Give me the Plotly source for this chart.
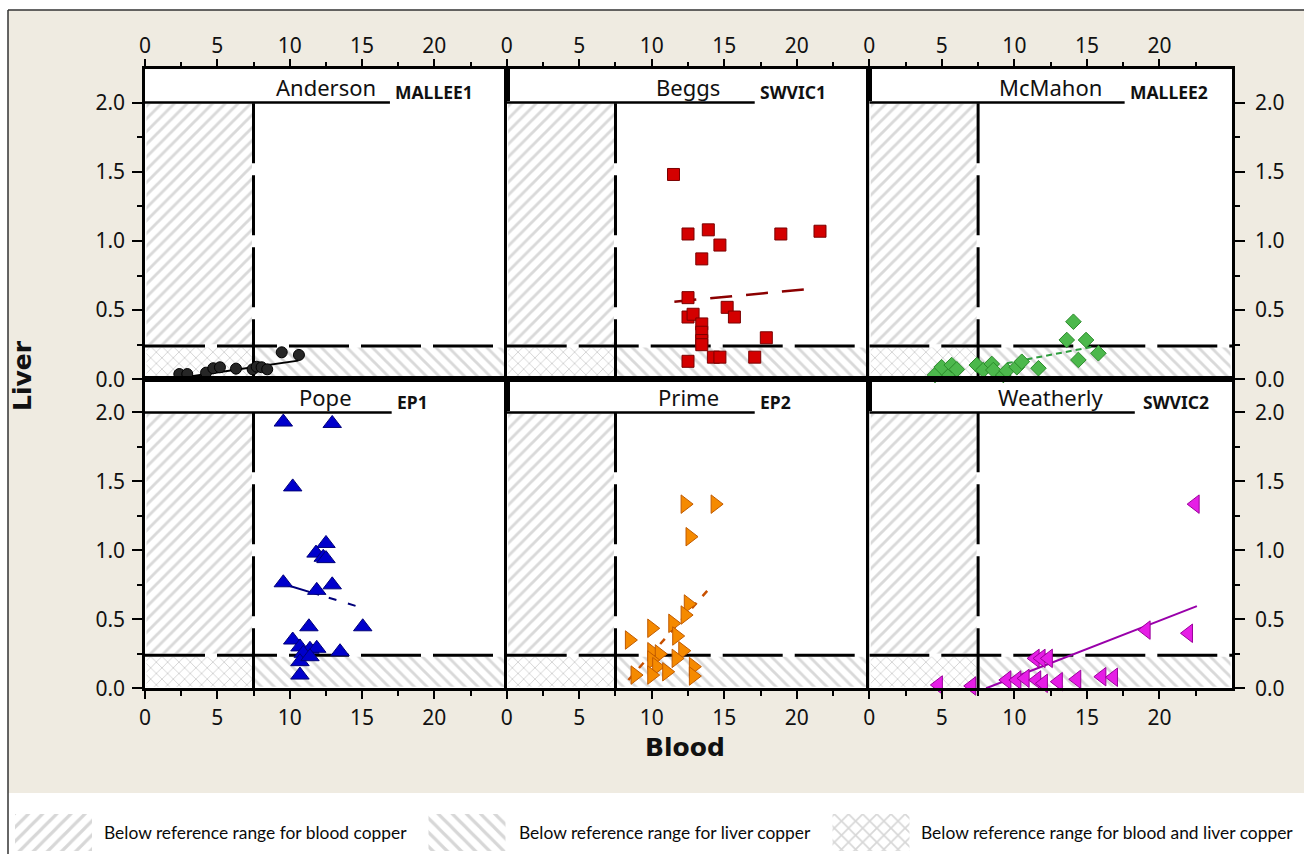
import plotly.graph_objects as go

W, H = 1304, 854

# ---------------- data ----------------
SITES = ["Anderson", "Beggs", "McMahon", "Pope", "Prime", "Weatherly"]
CODES = ["MALLEE1", "SWVIC1", "MALLEE2", "EP1", "EP2", "SWVIC2"]

anderson_blood = [2.37, 2.92, 4.22, 4.72, 5.18, 6.29, 7.44, 7.72, 8.06, 8.45, 9.45, 10.64]
anderson_liver = [0.038, 0.038, 0.048, 0.08, 0.087, 0.077, 0.072, 0.091, 0.087, 0.072, 0.195, 0.176]

beggs_blood = [11.5, 12.5, 13.9, 14.7, 13.45, 18.9, 21.6, 12.5, 12.5, 12.85, 15.2, 15.7,
               13.45, 13.45, 13.45, 13.45, 17.9, 12.5, 14.25, 14.7, 17.1]
beggs_liver = [1.48, 1.05, 1.08, 0.97, 0.87, 1.05, 1.07, 0.59, 0.45, 0.47, 0.52, 0.45,
               0.40, 0.34, 0.28, 0.25, 0.30, 0.13, 0.16, 0.16, 0.16]

mcmahon_blood = [4.53, 5.45, 4.99, 5.68, 6.03, 7.41, 7.86, 8.44, 8.55, 9.24, 9.48, 10.17,
                 10.51, 11.66, 13.61, 14.07, 14.94, 14.41, 15.79]
mcmahon_liver = [0.031, 0.038, 0.087, 0.103, 0.072, 0.103, 0.067, 0.111, 0.067, 0.031, 0.062,
                 0.087, 0.127, 0.08, 0.284, 0.416, 0.284, 0.14, 0.188]

pope_blood = [9.56, 12.94, 10.21, 12.51, 11.82, 12.32, 12.51, 9.56, 11.87, 12.94, 11.33, 15.05,
              10.21, 10.71, 11.4, 11.87, 10.94, 13.48, 10.71, 11.4, 10.71]
pope_liver = [1.93, 1.92, 1.46, 1.05, 0.98, 0.95, 0.94, 0.765, 0.71, 0.75, 0.446, 0.446,
              0.35, 0.30, 0.283, 0.29, 0.254, 0.265, 0.193, 0.229, 0.096]

prime_blood = [12.3, 14.37, 12.64, 12.52, 12.3, 11.45, 10.0, 11.72, 8.46, 10.0, 10.52, 12.14,
               11.68, 10.0, 10.34, 11.03, 8.85, 10.0, 12.87, 12.87]
prime_liver = [1.335, 1.335, 1.099, 0.611, 0.531, 0.471, 0.435, 0.379, 0.35, 0.265, 0.249,
               0.272, 0.217, 0.205, 0.157, 0.12, 0.096, 0.096, 0.157, 0.089]

weatherly_blood = [22.46, 19.08, 22.0, 11.43, 11.84, 12.34, 4.76, 7.06, 9.48, 10.17, 10.74,
                   11.54, 12.0, 13.03, 14.3, 16.03, 16.83]
weatherly_liver = [1.335, 0.422, 0.399, 0.217, 0.217, 0.217, 0.024, 0.017, 0.06, 0.06, 0.072,
                   0.06, 0.036, 0.048, 0.065, 0.084, 0.08]

BLOOD = [anderson_blood, beggs_blood, mcmahon_blood, pope_blood, prime_blood, weatherly_blood]
LIVER = [anderson_liver, beggs_liver, mcmahon_liver, pope_liver, prime_liver, weatherly_liver]

# fitted trend lines (start / end)
trend_blood_start = [2.4, 11.56, 9.48, 9.79, 8.39, 8.05]
trend_blood_end = [10.6, 20.69, 15.45, 15.1, 14.07, 22.58]
trend_liver_start = [0.01, 0.561, 0.116, 0.749, 0.06, 0.0]
trend_liver_end = [0.135, 0.651, 0.236, 0.58, 0.736, 0.596]

# reference range thresholds
BLOOD_REF = 7.5
LIVER_REF = 0.24

X_TICKS = [0, 5, 10, 15, 20]
X_TICKTEXT = ["0", "5", "10", "15", "20"]
Y_TICKS = [0.0, 0.5, 1.0, 1.5, 2.0]
Y_TICKTEXT = ["0.0", "0.5", "1.0", "1.5", "2.0"]

LEGEND_TEXT = ["Below reference range for blood copper",
               "Below reference range for liver copper",
               "Below reference range for blood and liver copper"]

# ---------------- styles / layout constants ----------------
X_MAX = 25
Y_MAX = 2.24
HEADER_Y = 2.0

MARKERS = [
    dict(symbol="circle", size=11, color="#262626", line=dict(color="#000000", width=1)),
    dict(symbol="square", size=12, color="#d40000", line=dict(color="#7a0000", width=1)),
    dict(symbol="diamond", size=12, color="#4cb84c", line=dict(color="#2a8a2a", width=1)),
    dict(symbol="triangle-up", size=16, color="#0000cc", line=dict(color="#00007a", width=1)),
    dict(symbol="triangle-right", size=16, color="#f58a00", line=dict(color="#c05a00", width=1)),
    dict(symbol="triangle-left", size=16, color="#e61ee6", line=dict(color="#9a009a", width=1)),
]
TREND_STYLE = [
    dict(color="#000000", width=2, dash="solid"),
    dict(color="#8b0000", width=2.5, dash="22px,14px"),
    dict(color="#2e9e3e", width=2, dash="6px,4px"),
    dict(color="#00007a", width=2, dash="34px,10px,8px,12px,8px,12px"),
    dict(color="#c85000", width=2.5, dash="7px,9px"),
    dict(color="#9900aa", width=2, dash="solid"),
]
STRIP_END = [16.93, 17.1, 17.6, 17.05, 17.1, 18.3]
CODE_X = [17.15, 17.3, 17.85, 17.3, 17.3, 18.7]

COL_EDGES = [145, 506.7, 869.3, 1232]
ROW_EDGES = [69.3, 379.3, 688.3]

HATCH_FG = "#b4b4b4"
BEIGE = "#efebe1"
TICK_FONT = dict(family="Noto Sans", size=21, color="#111111")

fig = go.Figure()


def hatch_bar(ax, xc, width, base, height, shape, size=9, solidity=0.32, fg=HATCH_FG):
    return go.Bar(
        x=[xc], y=[height], base=[base], width=[width],
        xaxis=ax[0], yaxis=ax[1],
        marker=dict(color="white", line=dict(color="white", width=3),
                    pattern=dict(shape=shape, fgcolor=fg, size=size,
                                 solidity=solidity, fillmode="overlay")),
        showlegend=False, hoverinfo="skip",
    )


for i in range(6):
    r, c = divmod(i, 3)
    n = "" if i == 0 else str(i + 1)
    xa, ya = "x" + n, "y" + n

    # hatched areas
    fig.add_trace(hatch_bar((xa, ya), BLOOD_REF / 2, BLOOD_REF, LIVER_REF,
                            HEADER_Y - LIVER_REF, "/"))
    fig.add_trace(hatch_bar((xa, ya), (BLOOD_REF + X_MAX) / 2, X_MAX - BLOOD_REF, 0,
                            LIVER_REF, "\\"))
    fig.add_trace(hatch_bar((xa, ya), BLOOD_REF / 2, BLOOD_REF, 0, LIVER_REF, "x",
                            size=8, solidity=0.22, fg="#a8a8a8"))

    # reference lines
    fig.add_trace(go.Scatter(x=[BLOOD_REF, BLOOD_REF], y=[0, HEADER_Y], mode="lines",
                             xaxis=xa, yaxis=ya, showlegend=False, hoverinfo="skip",
                             line=dict(color="black", width=3, dash="60px,12px")))
    fig.add_trace(go.Scatter(x=[0, X_MAX], y=[LIVER_REF, LIVER_REF], mode="lines",
                             xaxis=xa, yaxis=ya, showlegend=False, hoverinfo="skip",
                             line=dict(color="black", width=3, dash="60px,12px")))
    # title strip line
    fig.add_trace(go.Scatter(x=[0, STRIP_END[i]], y=[HEADER_Y, HEADER_Y], mode="lines",
                             xaxis=xa, yaxis=ya, showlegend=False, hoverinfo="skip",
                             line=dict(color="black", width=2.5)))
    # trend line
    fig.add_trace(go.Scatter(x=[trend_blood_start[i], trend_blood_end[i]],
                             y=[trend_liver_start[i], trend_liver_end[i]], mode="lines",
                             xaxis=xa, yaxis=ya, showlegend=False, hoverinfo="skip",
                             line=TREND_STYLE[i]))
    # points
    fig.add_trace(go.Scatter(x=BLOOD[i], y=LIVER[i], mode="markers", name=SITES[i],
                             xaxis=xa, yaxis=ya, showlegend=False, marker=MARKERS[i],
                             cliponaxis=False))

    xdom = [COL_EDGES[c] / W, COL_EDGES[c + 1] / W]
    ydom = [1 - ROW_EDGES[r + 1] / H, 1 - ROW_EDGES[r] / H]

    xaxis = dict(domain=xdom, range=[0, X_MAX], anchor=ya, side="top" if r == 0 else "bottom",
                 automargin=False,
                 showline=True, linecolor="black", linewidth=2.5, mirror=True,
                 ticks="outside", ticklen=8, tickwidth=2, tickcolor="black",
                 tickvals=X_TICKS, ticktext=X_TICKTEXT, tickfont=TICK_FONT,
                 showticklabels=True, ticklabelstandoff=-3 if r == 0 else 1,
                 minor=dict(ticks="outside", ticklen=5, tickwidth=2, tickcolor="black",
                            tickvals=[2.5, 7.5, 12.5, 17.5, 22.5], showgrid=False),
                 showgrid=False, zeroline=False, fixedrange=True)
    if c == 1:
        yextra = dict(ticks="", showticklabels=False, minor=dict(ticks=""))
    else:
        yextra = dict(side="left" if c == 0 else "right", ticks="outside", ticklen=10,
                      tickwidth=2, tickcolor="black", showticklabels=True,
                      tickvals=Y_TICKS, ticktext=Y_TICKTEXT, tickfont=TICK_FONT,
                      ticklabelstandoff=3 if c == 0 else 6,
                      minor=dict(ticks="outside", ticklen=5, tickwidth=2, tickcolor="black",
                                 tickvals=[0.25, 0.75, 1.25, 1.75], showgrid=False))
    yaxis = dict(domain=ydom, range=[0, Y_MAX], anchor=xa, showline=True, linecolor="black",
                 automargin=False,
                 linewidth=2.5, mirror=True, showgrid=False, zeroline=False, fixedrange=True,
                 **yextra)
    fig.layout["xaxis" + n] = xaxis
    fig.layout["yaxis" + n] = yaxis

    # panel title and site code
    fig.add_annotation(text=SITES[i], xref=xa + " domain", x=0.5, yref=ya, y=2.115,
                       xanchor="center", yanchor="middle", showarrow=False,
                       font=dict(family="Noto Sans", size=22, color="#111111"))
    fig.add_annotation(text="<b>" + CODES[i] + "</b>", xref=xa, x=CODE_X[i], yref=ya, y=2.075,
                       xanchor="left", yanchor="middle", showarrow=False,
                       font=dict(family="Noto Sans", size=17.5, color="#111111"))

# ---------------- legend key (separate axes) ----------------
LEG_SWATCH_X = [53.5, 467, 871]
LEG_TEXT_X = [102, 517, 919]
fig.add_trace(go.Bar(
    x=LEG_SWATCH_X, y=[1, 1, 1], width=[77, 77, 77], xaxis="x7", yaxis="y7",
    marker=dict(color="white", line=dict(width=0),
                pattern=dict(shape=["/", "\\", "x"], fgcolor="#b0b0b0", size=10,
                             solidity=0.32, fillmode="overlay")),
    showlegend=False, hoverinfo="skip"))
fig.layout["xaxis7"] = dict(domain=[0, 1], range=[0, W], visible=False, fixedrange=True,
                            anchor="y7", automargin=False)
fig.layout["yaxis7"] = dict(domain=[1 - 851 / H, 1 - 814 / H], range=[0, 1], visible=False,
                            fixedrange=True, anchor="x7", automargin=False)
for tx, t in zip(LEG_TEXT_X, LEGEND_TEXT):
    fig.add_annotation(text=t, xref="paper", x=tx / W, yref="paper", y=1 - 832 / H,
                       xanchor="left", yanchor="middle", showarrow=False,
                       font=dict(family="Lato", size=17.4, color="#0a0a0a"))

# axis titles
fig.add_annotation(text="<b>Liver</b>", xref="paper", x=22 / W, yref="paper", y=1 - 376 / H,
                   textangle=-90, showarrow=False, xanchor="center", yanchor="middle",
                   font=dict(family="DejaVu Sans", size=25, color="#111111"))
fig.add_annotation(text="<b>Blood</b>", xref="paper", x=685 / W, yref="paper", y=1 - 747 / H,
                   showarrow=False, xanchor="center", yanchor="middle",
                   font=dict(family="DejaVu Sans", size=25, color="#111111"))

# background panels (kept inside the page)
fig.add_shape(type="rect", xref="paper", yref="paper", x0=8 / W, x1=1.0, y0=1 - 793 / H,
              y1=1 - 10 / H, fillcolor=BEIGE, line=dict(width=0), layer="below")
fig.add_shape(type="rect", xref="paper", yref="paper", x0=COL_EDGES[0] / W,
              x1=COL_EDGES[-1] / W, y0=1 - ROW_EDGES[-1] / H, y1=1 - ROW_EDGES[0] / H,
              fillcolor="white", line=dict(width=0), layer="below")
fig.add_shape(type="line", xref="paper", yref="paper", x0=8 / W, x1=8 / W, y0=0,
              y1=1 - 10 / H, line=dict(color="#333333", width=1.5), layer="below")
fig.add_shape(type="line", xref="paper", yref="paper", x0=8 / W, x1=1.0, y0=1 - 10 / H,
              y1=1 - 10 / H, line=dict(color="#333333", width=1.5), layer="below")

fig.update_layout(
    width=W, height=H, margin=dict(l=0, r=0, t=0, b=0, autoexpand=False),
    paper_bgcolor="white", plot_bgcolor="rgba(0,0,0,0)",
    barmode="overlay", showlegend=False,
)

fig.write_html("out.html", config={"displayModeBar": False},
               post_script="document.body.style.margin='0';"
                           "document.body.style.overflow='hidden';")
